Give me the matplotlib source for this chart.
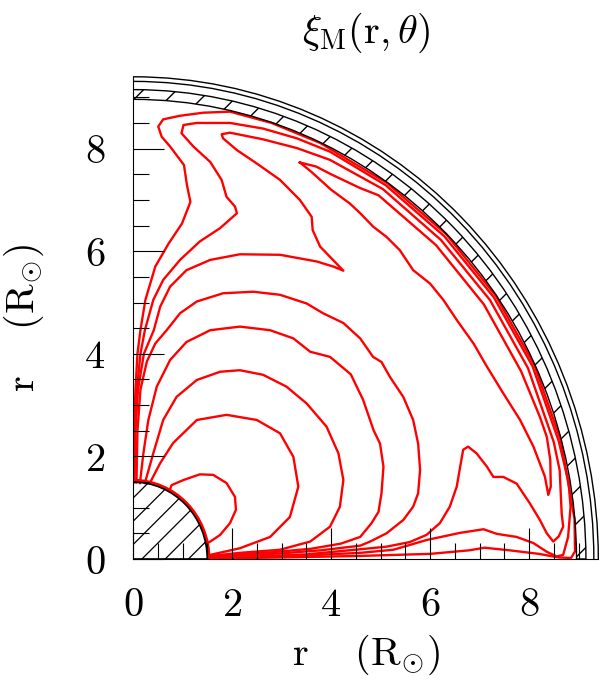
import numpy as np
import matplotlib
matplotlib.use('Agg')
import matplotlib.pyplot as plt
from matplotlib.patches import Wedge, Arc

plt.rcParams['mathtext.fontset'] = 'cm'
plt.rcParams['font.family'] = ['DejaVu Serif']

# axis ticks
major_ticks = [0, 2, 4, 6, 8]
tick_labels = ['0', '2', '4', '6', '8']

# geometry of the star (in R_sun)
r_core = 1.5
r_shell_in = 8.96
r_shell_out = 9.15
r_rim = [9.31, 9.40]

# contours of xi_M (traced), innermost first
c1_x = [1.47, 1.56, 1.76, 1.96, 2.08, 2.06, 1.89, 1.62, 1.35, 1.02, 0.78, 0.74]
c1_y = [0.30, 0.34, 0.47, 0.70, 0.96, 1.21, 1.48, 1.64, 1.65, 1.54, 1.44, 1.34]

c2_x = [0.34, 0.55, 0.81, 1.29, 1.89, 2.50, 2.97, 3.24, 3.34, 3.17, 2.77, 2.16, 1.56]
c2_y = [1.48, 1.87, 2.26, 2.71, 2.81, 2.71, 2.45, 1.99, 1.41, 0.82, 0.43, 0.21, 0.08]

c3_x = [0.24, 0.41, 0.61, 0.88, 1.29, 1.76, 2.16, 2.63, 3.10, 3.51, 3.91, 4.15, 4.25,
        4.18, 3.98, 3.58, 2.97, 2.16, 1.56]
c3_y = [1.48, 2.06, 2.71, 3.16, 3.49, 3.65, 3.68, 3.59, 3.36, 3.03, 2.58, 2.06, 1.54,
        1.02, 0.63, 0.34, 0.18, 0.12, 0.06]

c4_x = [0.14, 0.21, 0.31, 0.48, 0.75, 1.08, 1.56, 2.16, 2.77, 3.24, 3.58, 3.98, 4.40,
        4.65, 4.86, 4.99, 5.06, 5.02, 4.96, 4.82, 4.59, 4.20, 3.60, 2.80, 2.10, 1.56]
c4_y = [1.48, 2.06, 2.71, 3.36, 3.88, 4.23, 4.46, 4.53, 4.46, 4.30, 4.04, 3.94, 3.60,
        3.10, 2.51, 2.25, 1.80, 1.28, 0.92, 0.70, 0.43, 0.30, 0.20, 0.13, 0.09, 0.05]

c5_x = [0.07, 0.09, 0.15, 0.28, 0.45, 0.68, 0.95, 1.29, 1.82, 2.43, 2.97, 3.51, 3.84,
        4.25, 4.59, 4.85, 5.02, 5.19, 5.46, 5.66, 5.76, 5.80, 5.76, 5.66, 5.46, 5.12,
        4.79, 4.59, 3.80, 3.00, 2.20, 1.56]
c5_y = [1.49, 2.50, 3.30, 3.85, 4.20, 4.46, 4.79, 5.02, 5.18, 5.21, 5.15, 4.98, 4.79,
        4.60, 4.30, 3.94, 3.84, 3.55, 3.16, 2.71, 2.25, 1.74, 1.28, 1.02, 0.76, 0.50,
        0.34, 0.26, 0.17, 0.11, 0.07, 0.04]

c6_x = [0.03, 0.05, 0.10, 0.22, 0.42, 0.55, 0.75, 1.08, 1.56, 2.16, 2.97, 3.71, 4.05,
        4.25, 4.01, 3.78, 3.63, 3.61, 3.37, 2.97, 2.50, 2.10, 1.82, 1.79, 1.96, 2.63,
        3.31, 3.98, 5.05, 6.22, 7.21, 7.98, 8.50, 8.62, 8.66, 8.69, 8.60, 8.49, 8.36,
        8.22, 8.02, 7.75, 7.48, 7.28, 7.15, 6.94, 6.77, 6.67, 6.61, 6.54, 6.40, 6.20,
        5.93, 5.59, 5.12, 4.59, 3.50, 2.50, 1.56]
c6_y = [1.50, 2.50, 3.30, 4.00, 4.46, 4.92, 5.31, 5.63, 5.83, 5.94, 5.93, 5.80, 5.70,
        5.62, 5.86, 6.09, 6.41, 6.67, 7.00, 7.39, 7.71, 7.97, 8.20, 8.28, 8.31, 8.18,
        8.01, 7.78, 7.21, 6.22, 5.05, 3.72, 2.28, 1.73, 0.89, 0.63, 0.44, 0.34, 0.50,
        0.76, 1.08, 1.47, 1.60, 1.60, 1.80, 2.06, 2.19, 2.13, 1.80, 1.41, 1.02, 0.70,
        0.47, 0.33, 0.24, 0.19, 0.09, 0.05, 0.03]

c7_x = [0.02, 0.04, 0.08, 0.15, 0.24, 0.41, 0.61, 0.95, 1.35, 1.76, 2.10, 2.06, 1.89,
        1.79, 1.56, 1.22, 0.98, 1.02, 1.29, 1.96, 2.63, 3.31, 3.98, 5.10, 6.29, 7.29,
        8.07, 8.60, 8.80, 8.84, 8.79, 8.69, 8.56, 8.36, 8.09, 7.75, 7.35, 7.08, 6.61,
        5.93, 5.26, 4.59, 3.50, 2.50, 1.56]
c7_y = [1.50, 2.50, 3.30, 4.00, 4.46, 5.05, 5.44, 5.83, 6.19, 6.45, 6.74, 6.87, 7.06,
        7.39, 7.74, 8.04, 8.30, 8.46, 8.50, 8.50, 8.39, 8.20, 7.94, 7.29, 6.29, 5.10,
        3.76, 2.30, 1.50, 1.02, 0.43, 0.08, 0.05, 0.14, 0.31, 0.43, 0.49, 0.58, 0.51,
        0.37, 0.18, 0.12, 0.07, 0.04, 0.02]

c8_x = [0.01, 0.02, 0.05, 0.09, 0.15, 0.25, 0.45, 0.72, 0.99, 1.16, 1.09, 1.03, 0.75,
        0.58, 0.51, 0.61, 0.95, 1.42, 1.96, 2.80, 3.78, 5.13, 6.33, 7.33, 8.11, 8.64,
        8.92, 8.93, 8.85, 8.60, 8.20, 7.60, 7.10, 6.80, 6.00, 4.59, 3.00, 1.56]
c8_y = [1.50, 2.50, 3.30, 4.00, 4.46, 5.05, 5.70, 6.15, 6.54, 6.96, 7.29, 7.68, 8.04,
        8.23, 8.43, 8.57, 8.64, 8.70, 8.72, 8.50, 8.11, 7.33, 6.33, 5.13, 3.78, 2.32,
        0.78, 0.15, 0.02, 0.03, 0.10, 0.17, 0.22, 0.17, 0.10, 0.06, 0.03, 0.01]

# closed crescent along the shell
c9_x = [3.37, 3.70, 4.00, 4.59, 4.96, 6.12, 7.09, 7.84, 8.22, 8.36, 8.43, 8.44, 8.39,
        8.32, 8.09, 7.82, 7.48, 7.15, 6.88, 6.54, 6.27, 6.00, 5.66, 5.39, 5.12, 4.85,
        4.59, 4.38, 4.00, 3.60, 3.37]
c9_y = [7.73, 7.65, 7.50, 7.23, 7.09, 6.12, 4.96, 3.66, 2.77, 2.38, 1.93, 1.41, 1.25,
        1.61, 2.19, 2.71, 3.23, 3.75, 4.20, 4.66, 5.05, 5.37, 5.63, 6.02, 6.28, 6.48,
        6.74, 6.93, 7.20, 7.55, 7.73]

contours = [(c1_x, c1_y), (c2_x, c2_y), (c3_x, c3_y), (c4_x, c4_y), (c5_x, c5_y),
            (c6_x, c6_y), (c7_x, c7_y), (c8_x, c8_y), (c9_x, c9_y)]

lim = 9.45
fig = plt.figure(figsize=(6, 6.95), dpi=100)
ax = fig.add_axes([133/600, 136/695, lim*49.5/600, lim*51.3/695])
ax.set_xlim(0, lim)
ax.set_ylim(0, lim)
ax.set_axisbelow(False)

# contours
for cx, cy in contours:
    ax.plot(cx, cy, color='red', lw=1.7, zorder=2, solid_joinstyle='round')

# red edge around the core
ax.add_patch(Arc((0, 0), 2*1.53, 2*1.53, theta1=0, theta2=90, color='red', lw=2.5, zorder=2))

# core, hatched by hand
core = Wedge((0, 0), r_core, 0, 90, facecolor='none', edgecolor='black', lw=1.2, zorder=3)
ax.add_patch(core)
for c in np.arange(-1.7, 1.7, 0.47):
    ln, = ax.plot([c, c + 3], [0, 3*49.5/51.3], color='black', lw=0.9, zorder=3)
    ln.set_clip_path(core)

# shell
ax.add_patch(Wedge((0, 0), r_shell_out, 0, 90, width=r_shell_out - r_shell_in,
                   facecolor='none', edgecolor='black', hatch='/', lw=1.0, zorder=3))
for r in r_rim:
    ax.add_patch(Arc((0, 0), 2*r, 2*r, theta1=0, theta2=90, color='black', lw=1.0,
                     zorder=3, clip_on=False))

# axes
ax.spines['top'].set_visible(False)
ax.spines['right'].set_visible(False)
ax.spines['left'].set_bounds(0, r_rim[-1])
ax.spines['bottom'].set_bounds(0, r_rim[-1])
ax.set_xticks(major_ticks)
ax.set_yticks(major_ticks)
ax.set_xticklabels(['$%s$' % t for t in tick_labels])
ax.set_yticklabels(['$%s$' % t for t in tick_labels])
ax.set_xticks(np.arange(0.5, 9.3, 0.5), minor=True)
ax.set_yticks(np.arange(0.5, 9.3, 0.5), minor=True)
ax.tick_params(which='both', direction='in', top=False, right=False, width=0.8, labelsize=29)
ax.tick_params(which='major', length=22)
ax.tick_params(which='minor', length=11.5)
ax.tick_params(axis='x', which='major', pad=20)
ax.tick_params(axis='y', which='major', pad=20)

fig.text(0.61, 1 - 33/695, r'$\xi_{\mathrm{M}}(\mathrm{r},\theta)$', ha='center', va='center', fontsize=29)
fig.text(366/600, 1 - 655/695, r'$\mathrm{r}\quad\ (\mathrm{R}_{\odot})$', ha='center', va='center', fontsize=29)
fig.text(24/600, 1 - 318/695, r'$\mathrm{r}\quad\ (\mathrm{R}_{\odot})$', ha='center', va='center',
         fontsize=29, rotation=90)

fig.savefig('out.png', dpi=100)
